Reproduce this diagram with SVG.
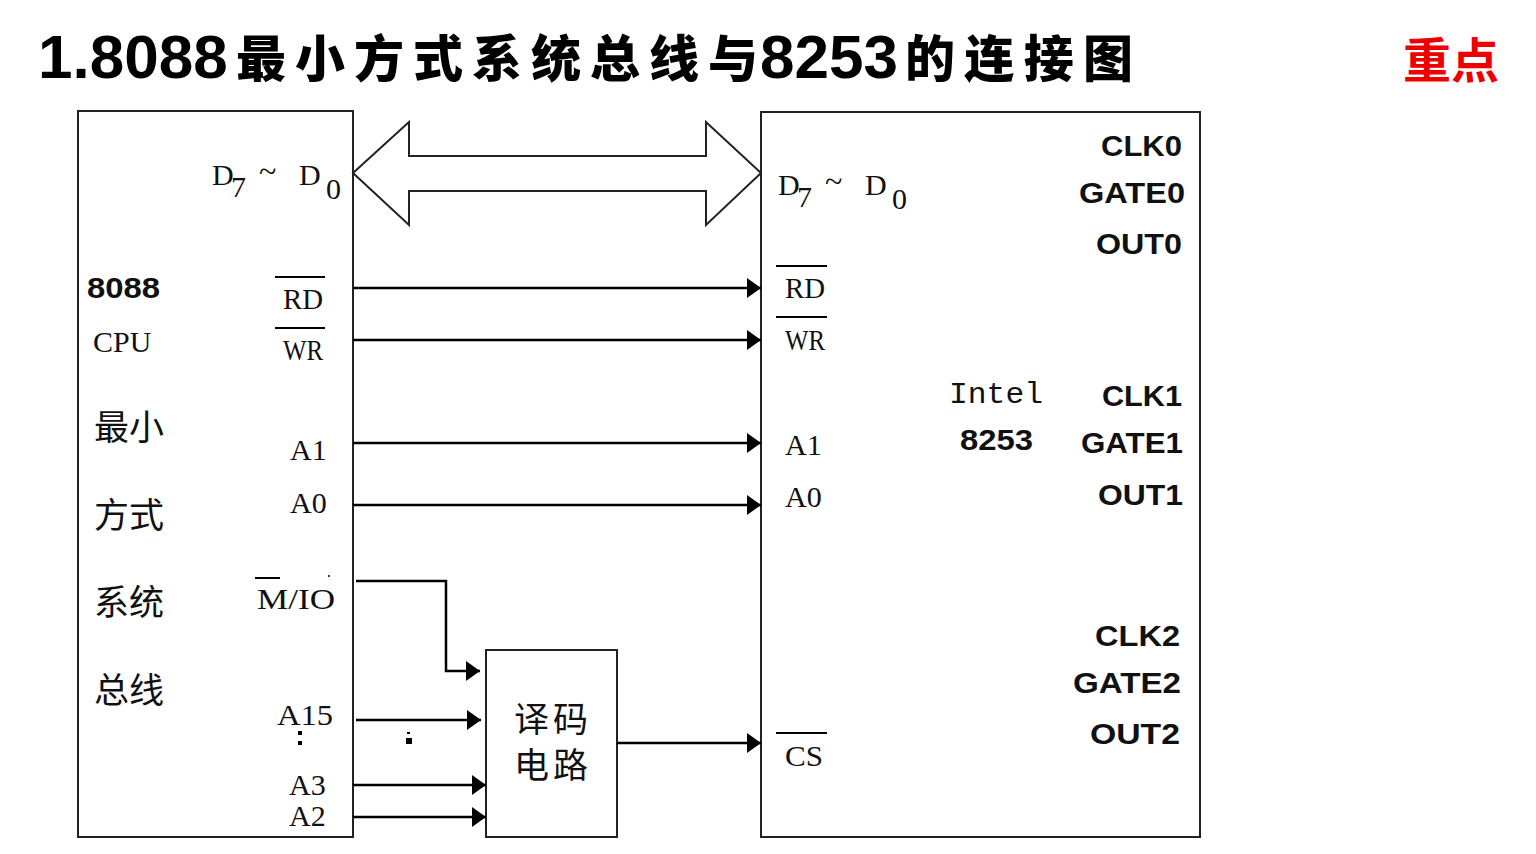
<svg xmlns="http://www.w3.org/2000/svg" width="1536" height="854" viewBox="0 0 1536 854">
<defs>
<marker id="ah" markerWidth="14" markerHeight="20" refX="14" refY="10" orient="auto" markerUnits="userSpaceOnUse">
<path d="M0,0 L14,10 L0,20 Z" fill="#000"/>
</marker>
<style>
.box{fill:#fff;stroke:#222;stroke-width:2}
.ln{fill:none;stroke:#000;stroke-width:2.5}
.ser{font-family:"Liberation Serif","Noto Sans CJK SC",serif;font-size:30px;fill:#111}
.cjk{font-family:"Noto Sans CJK SC",sans-serif;font-size:35px;fill:#111}
.bs{font-family:"Liberation Sans",Arial,sans-serif;font-weight:bold;font-size:29px;fill:#111}
.ov{stroke:#000;stroke-width:2}
</style>
</defs>
<rect width="1536" height="854" fill="#fff"/>
<g id="title">
<text x="38" y="78" font-family="Liberation Sans,Arial,sans-serif" font-weight="bold" font-size="62" fill="#000">1.8088</text>
<text x="236" y="77" font-family="Noto Sans CJK SC,sans-serif" font-weight="900" font-size="50" fill="#000" textLength="522" lengthAdjust="spacing">最小方式系统总线与</text>
<text x="760" y="78" font-family="Liberation Sans,Arial,sans-serif" font-weight="bold" font-size="62" fill="#000">8253</text>
<text x="905" y="77" font-family="Noto Sans CJK SC,sans-serif" font-weight="900" font-size="50" fill="#000" textLength="228" lengthAdjust="spacing">的连接图</text>
<text x="1403" y="78" font-family="Noto Sans CJK SC,sans-serif" font-weight="bold" font-size="48" fill="#e00">重点</text>
</g>
<g id="cpu">
<rect class="box" x="78" y="111" width="275" height="726"/>
<text class="ser"><tspan x="212" y="185">D</tspan><tspan x="231" y="197" font-size="30">7</tspan><tspan x="259" y="182" font-size="32">~</tspan><tspan x="299" y="185">D</tspan><tspan x="326" y="199">0</tspan></text>
<text x="87" y="298" class="bs" textLength="73" lengthAdjust="spacingAndGlyphs">8088</text>
<text x="93" y="352" class="ser">CPU</text>
<text x="94" y="440" class="cjk">最小</text>
<text x="94" y="528" class="cjk">方式</text>
<text x="94" y="615" class="cjk">系统</text>
<text x="94" y="703" class="cjk">总线</text>
<line class="ov" x1="275" y1="277" x2="325" y2="277"/>
<text x="283" y="309" class="ser" textLength="40" lengthAdjust="spacingAndGlyphs">RD</text>
<line class="ov" x1="275" y1="328" x2="325" y2="328"/>
<text x="283" y="360" class="ser" textLength="40" lengthAdjust="spacingAndGlyphs">WR</text>
<text x="290" y="460" class="ser">A1</text>
<text x="290" y="513" class="ser">A0</text>
<line class="ov" x1="255" y1="578" x2="280" y2="578"/>
<text x="257" y="609" class="ser" textLength="78" lengthAdjust="spacingAndGlyphs">M/IO</text>
<circle cx="329" cy="576" r="1" fill="#000"/>
<text x="277" y="725" class="ser" textLength="56" lengthAdjust="spacingAndGlyphs">A15</text>
<rect x="298" y="731" width="4" height="4" fill="#000"/>
<rect x="298" y="741" width="4" height="4" fill="#000"/>
<text x="289" y="795" class="ser">A3</text>
<text x="289" y="826" class="ser">A2</text>
</g>
<g id="decoder">
<rect class="box" x="486" y="650" width="131" height="187"/>
<text x="514" y="732" class="cjk" font-size="34" textLength="74" lengthAdjust="spacing">译码</text>
<text x="514" y="778" class="cjk" font-size="34" textLength="74" lengthAdjust="spacing">电路</text>
</g>
<g id="i8253">
<rect class="box" x="761" y="112" width="439" height="725"/>
<text class="ser"><tspan x="778" y="195">D</tspan><tspan x="797" y="207" font-size="30">7</tspan><tspan x="825" y="192" font-size="32">~</tspan><tspan x="865" y="195">D</tspan><tspan x="892" y="209">0</tspan></text>
<line class="ov" x1="776" y1="266" x2="827" y2="266"/>
<text x="785" y="298" class="ser" textLength="40" lengthAdjust="spacingAndGlyphs">RD</text>
<line class="ov" x1="776" y1="317" x2="827" y2="317"/>
<text x="785" y="350" class="ser" textLength="40" lengthAdjust="spacingAndGlyphs">WR</text>
<text x="785" y="455" class="ser">A1</text>
<text x="785" y="507" class="ser">A0</text>
<line class="ov" x1="776" y1="733" x2="827" y2="733"/>
<text x="785" y="766" class="ser" textLength="38" lengthAdjust="spacingAndGlyphs">CS</text>
<text x="949" y="403" font-family="Liberation Mono,monospace" font-size="29" fill="#111" textLength="94" lengthAdjust="spacingAndGlyphs">Intel</text>
<text x="960" y="450" class="bs" textLength="73" lengthAdjust="spacingAndGlyphs">8253</text>
<g>
<text x="1101" y="156" class="bs" textLength="81" lengthAdjust="spacingAndGlyphs">CLK0</text>
<text x="1079" y="203" class="bs" textLength="106" lengthAdjust="spacingAndGlyphs">GATE0</text>
<text x="1096" y="254" class="bs" textLength="86" lengthAdjust="spacingAndGlyphs">OUT0</text>
<text x="1102" y="406" class="bs" textLength="80" lengthAdjust="spacingAndGlyphs">CLK1</text>
<text x="1081" y="453" class="bs" textLength="102" lengthAdjust="spacingAndGlyphs">GATE1</text>
<text x="1098" y="505" class="bs" textLength="85" lengthAdjust="spacingAndGlyphs">OUT1</text>
<text x="1095" y="646" class="bs" textLength="85" lengthAdjust="spacingAndGlyphs">CLK2</text>
<text x="1073" y="693" class="bs" textLength="108" lengthAdjust="spacingAndGlyphs">GATE2</text>
<text x="1090" y="744" class="bs" textLength="90" lengthAdjust="spacingAndGlyphs">OUT2</text>
</g>
</g>
<g id="connectors">
<path d="M353,173 L409,122 L409,156 L706,156 L706,122 L761,173 L706,225 L706,191 L409,191 L409,225 Z" fill="#fff" stroke="#222" stroke-width="2"/>
<line class="ln" x1="353" y1="288" x2="761" y2="288" marker-end="url(#ah)"/>
<line class="ln" x1="353" y1="340" x2="761" y2="340" marker-end="url(#ah)"/>
<line class="ln" x1="353" y1="443" x2="761" y2="443" marker-end="url(#ah)"/>
<line class="ln" x1="353" y1="505" x2="761" y2="505" marker-end="url(#ah)"/>
<path class="ln" d="M356,581 L446,581 L446,671 L480,671" marker-end="url(#ah)"/>
<line class="ln" x1="356" y1="720" x2="481" y2="720" marker-end="url(#ah)"/>
<rect x="406" y="738" width="6" height="6" fill="#000"/>
<rect x="407" y="732" width="3" height="2" fill="#000"/>
<line class="ln" x1="353" y1="785" x2="486" y2="785" marker-end="url(#ah)"/>
<line class="ln" x1="353" y1="817" x2="486" y2="817" marker-end="url(#ah)"/>
<line class="ln" x1="617" y1="743" x2="761" y2="743" marker-end="url(#ah)"/>
</g>
</svg>
